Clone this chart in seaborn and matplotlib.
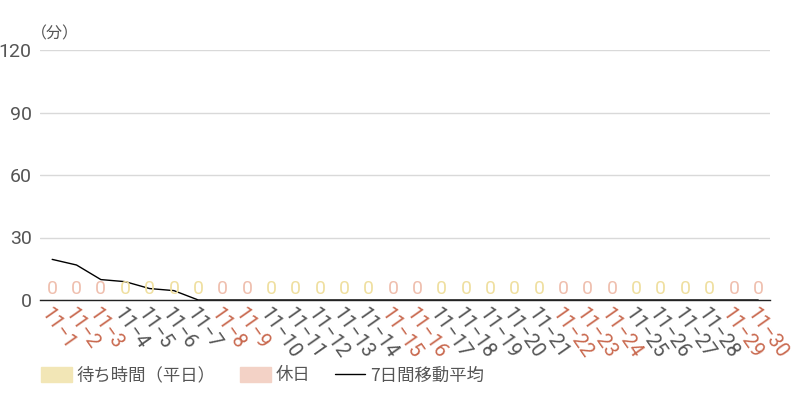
import matplotlib.pyplot as plt
import seaborn as sns
import pandas as pd
from matplotlib.patches import Patch
from matplotlib.lines import Line2D

# Data
dates = ['11-1', '11-2', '11-3', '11-4', '11-5', '11-6', '11-7', '11-8', '11-9', '11-10',
         '11-11', '11-12', '11-13', '11-14', '11-15', '11-16', '11-17', '11-18', '11-19', '11-20',
         '11-21', '11-22', '11-23', '11-24', '11-25', '11-26', '11-27', '11-28', '11-29', '11-30']
holiday = [1, 1, 1, 0, 0, 0, 0, 1, 1, 0,
           0, 0, 0, 0, 1, 1, 0, 0, 0, 0,
           0, 1, 1, 1, 0, 0, 0, 0, 1, 1]
wait = [0, 0, 0, 0, 0, 0, 0, 0, 0, 0,
        0, 0, 0, 0, 0, 0, 0, 0, 0, 0,
        0, 0, 0, 0, 0, 0, 0, 0, 0, 0]
ma7 = [19.5, 16.8, 9.8, 8.8, 5.5, 4.5, 0, 0, 0, 0,
       0, 0, 0, 0, 0, 0, 0, 0, 0, 0,
       0, 0, 0, 0, 0, 0, 0, 0, 0, 0]

df = pd.DataFrame({'date': dates, 'wait': wait, 'ma7': ma7,
                   'kind': ['休日' if h else '平日' for h in holiday]})

sns.set_theme(style='white')
plt.rcParams['font.family'] = ['Roboto', 'Noto Sans CJK JP', 'DejaVu Sans']

weekday_bar = '#f2e6b6'
holiday_bar = '#f3d2c6'
weekday_txt = '#efdf9f'
holiday_txt = '#efbfae'
holiday_tick = '#c9694f'
grey_txt = '#555555'

fig, ax = plt.subplots(figsize=(8, 4), dpi=100)
fig.subplots_adjust(left=0.05, right=0.963, top=0.875, bottom=0.25)

sns.barplot(data=df, x='date', y='wait', hue='kind',
            palette={'平日': weekday_bar, '休日': holiday_bar},
            dodge=False, legend=False, ax=ax, width=0.8)

# zero labels above bars
for i, (v, h) in enumerate(zip(wait, holiday)):
    ax.text(i, v + 1, f'{v}', ha='center', va='bottom', fontsize=14,
            color=holiday_txt if h else weekday_txt)

sns.lineplot(x=range(len(dates)), y=ma7, color='black', linewidth=1, ax=ax)

ax.set_ylim(0, 120)
ax.set_xlim(-0.5, len(dates) - 0.5)
ax.set_yticks([0, 30, 60, 90, 120])
ax.grid(axis='y', color='#d9d9d9', linewidth=1)
ax.set_axisbelow(True)
for s in ['top', 'right', 'left']:
    ax.spines[s].set_visible(False)
ax.spines['bottom'].set_color('#222222')
ax.spines['bottom'].set_linewidth(1)
ax.set_xlabel('')
ax.set_ylabel('')
ax.tick_params(axis='y', length=0, labelsize=14, labelcolor=grey_txt, pad=6)
ax.tick_params(axis='x', length=0, labelsize=14.5, pad=3)
ax.set_xticks(range(len(dates)))
ax.set_xticklabels([d.replace('-', '−') for d in dates], rotation=-55,
                   ha='left', va='top', rotation_mode='anchor')
for lbl, h in zip(ax.get_xticklabels(), holiday):
    lbl.set_color(holiday_tick if h else grey_txt)

ax.text(-0.012, 1.03, '（分）', transform=ax.transAxes, fontsize=11.5, color=grey_txt,
        ha='left', va='bottom', family=['Noto Sans CJK JP', 'DejaVu Sans'])

handles = [Patch(color=weekday_bar, label='待ち時間（平日）'),
           Patch(color=holiday_bar, label='休日'),
           Line2D([0], [0], color='black', linewidth=1, label='7日間移動平均')]
fig.legend(handles=handles, loc='lower left', bbox_to_anchor=(0.032, 0.0), ncol=3,
           frameon=False, handlelength=1.75, handleheight=0.9, handletextpad=0.3,
           columnspacing=1.4, labelcolor=grey_txt,
           prop={'family': ['Noto Sans CJK JP', 'DejaVu Sans'], 'size': 12.5})

fig.savefig('out.png', dpi=100)
